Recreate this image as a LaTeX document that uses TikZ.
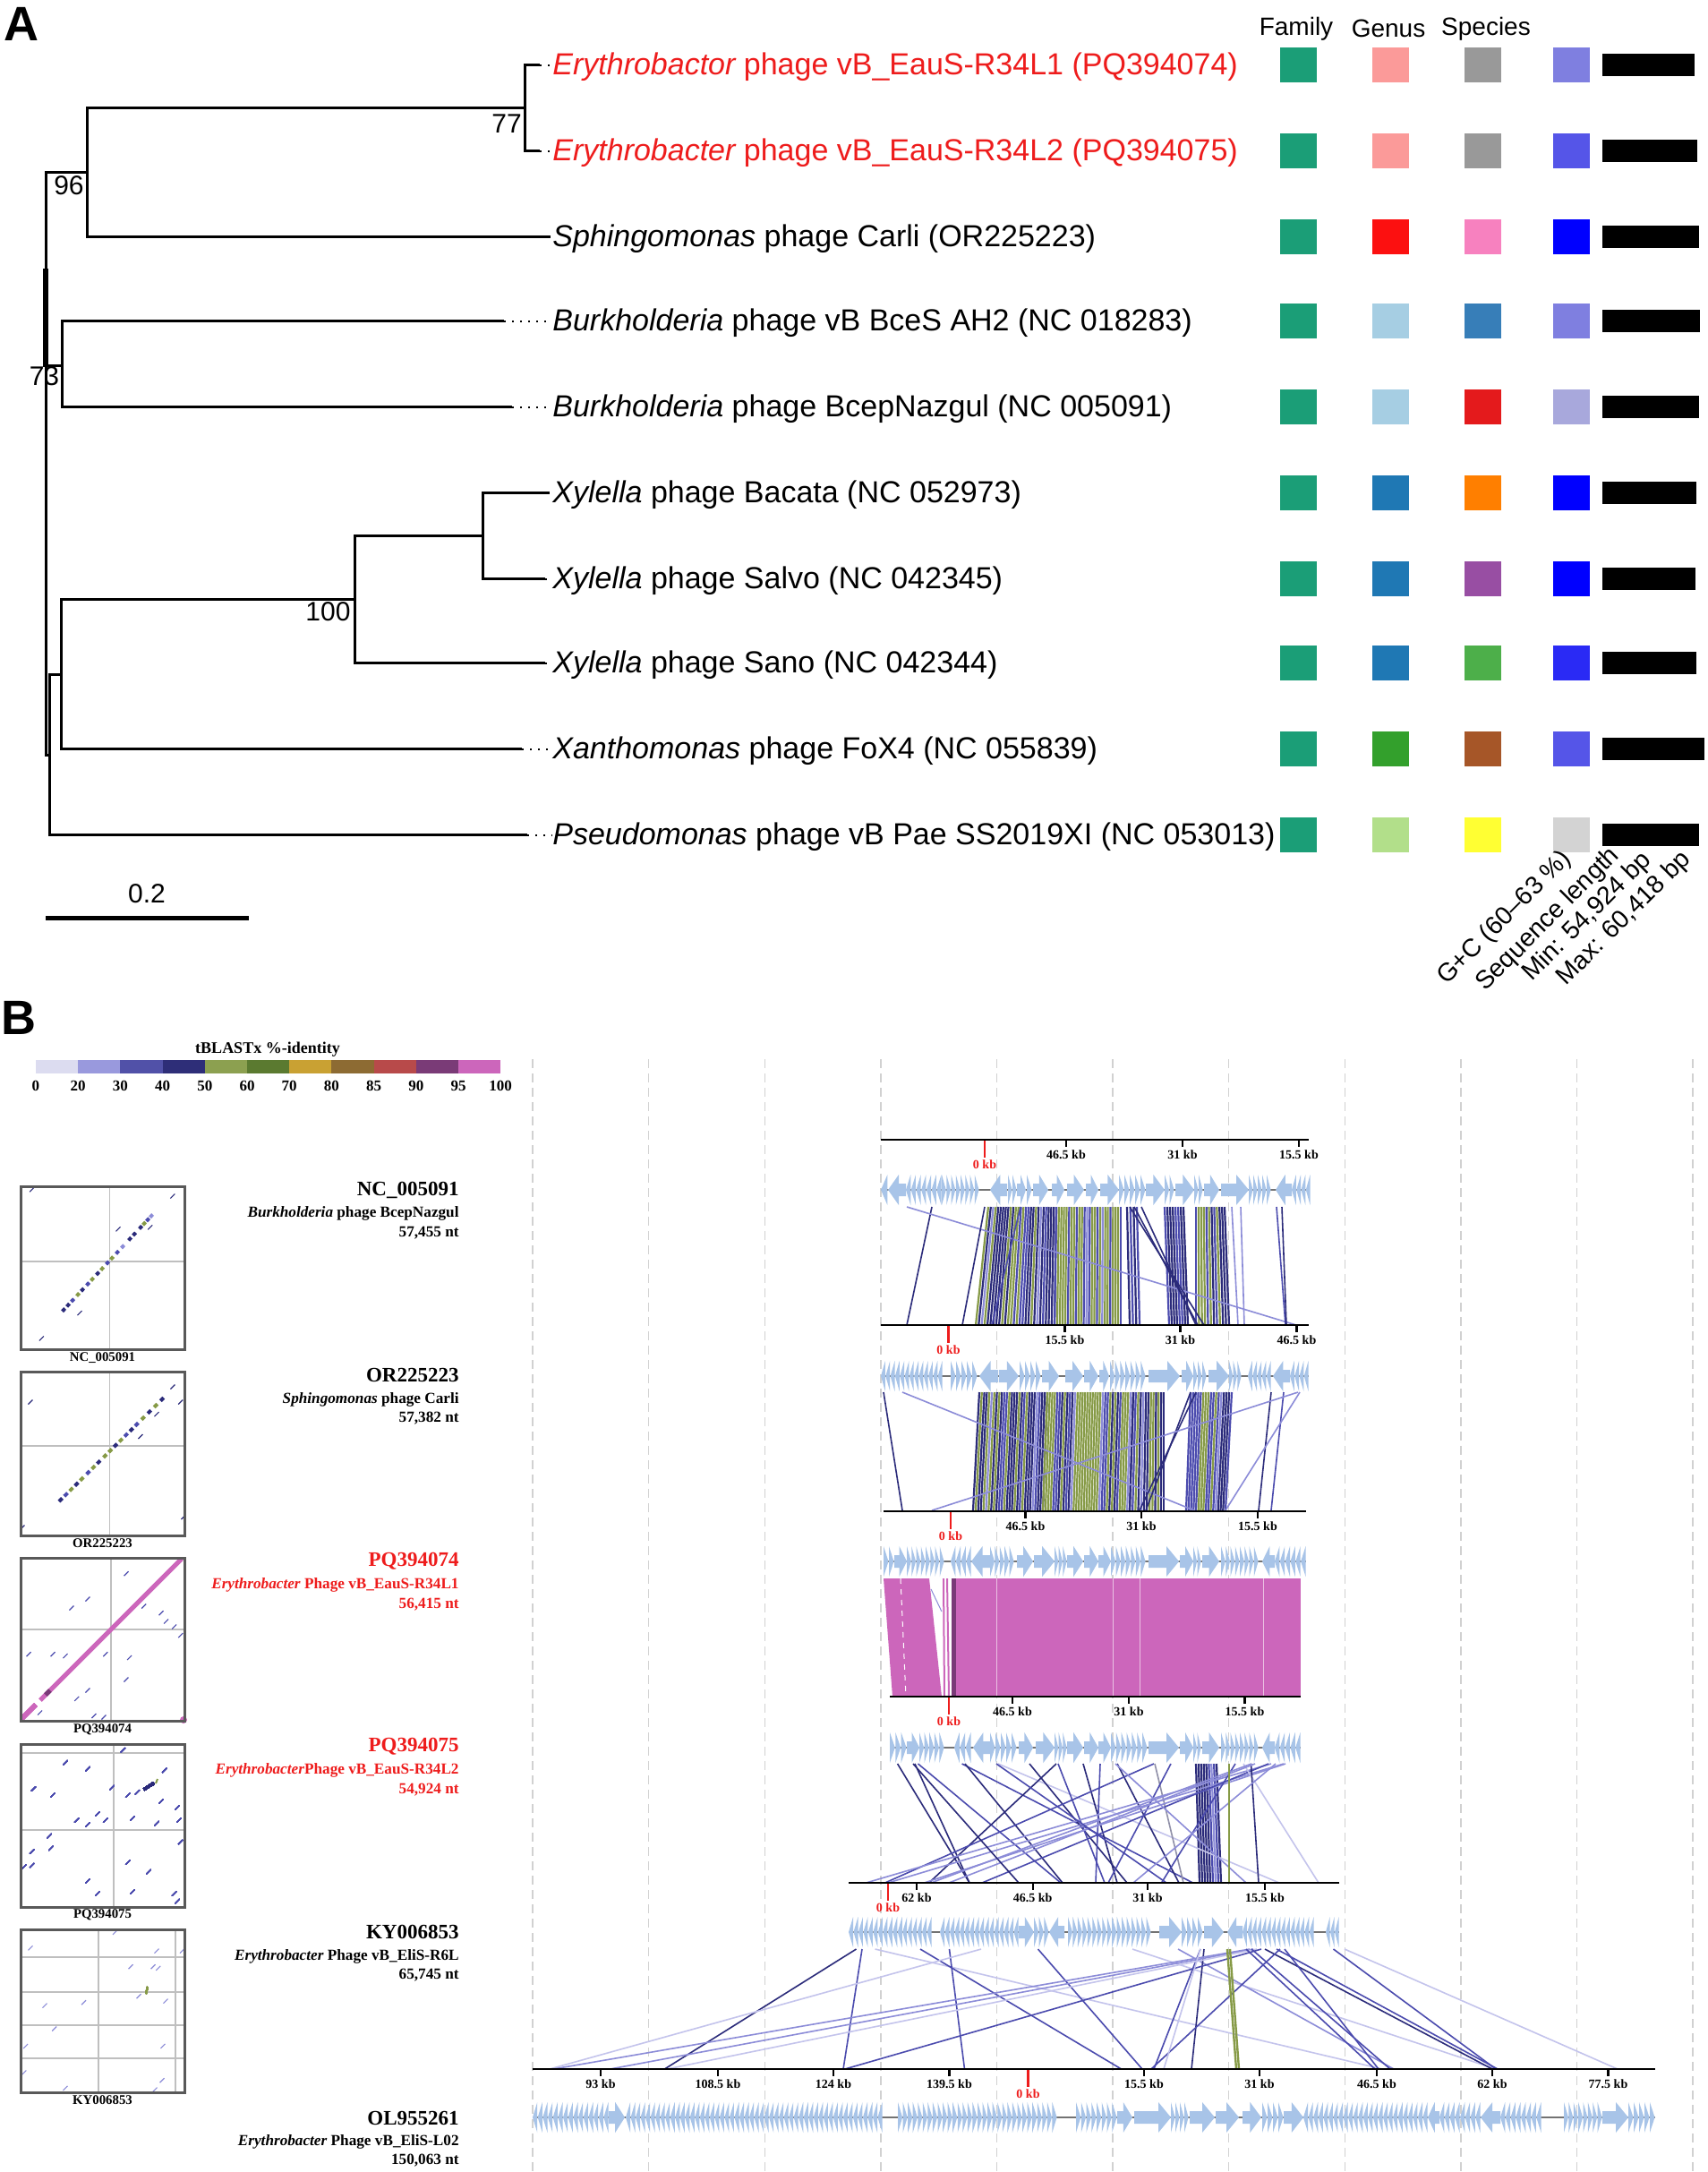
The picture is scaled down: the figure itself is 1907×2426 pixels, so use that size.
\documentclass[tikz,border=0pt]{standalone}
\usepackage{fontspec}
\setmainfont{Liberation Serif}
\newfontfamily\arial{Liberation Sans}
\usetikzlibrary{calc}

\definecolor{ered}{HTML}{EE1C1C}
\definecolor{cfam}{HTML}{1B9E77}
\definecolor{gA}{HTML}{FB9A99}\definecolor{gB}{HTML}{FC1010}\definecolor{gC}{HTML}{A6CEE3}
\definecolor{gD}{HTML}{1F78B4}\definecolor{gE}{HTML}{33A02C}\definecolor{gF}{HTML}{B2DF8A}
\definecolor{sA}{HTML}{999999}\definecolor{sB}{HTML}{F781BF}\definecolor{sC}{HTML}{377EB8}
\definecolor{sD}{HTML}{E41A1C}\definecolor{sE}{HTML}{FF7F00}\definecolor{sF}{HTML}{984EA3}
\definecolor{sG}{HTML}{4DAF4A}\definecolor{sH}{HTML}{A65628}\definecolor{sI}{HTML}{FFFF33}
\definecolor{cA}{HTML}{7F7FE0}\definecolor{cB}{HTML}{5555E8}\definecolor{cC}{HTML}{0000FF}
\definecolor{cD}{HTML}{A8A8DC}\definecolor{cE}{HTML}{2A2AF5}\definecolor{cF}{HTML}{D3D3D3}
\definecolor{geneblue}{HTML}{A8C4E8}
\definecolor{cnav}{HTML}{2B2B7A}
\definecolor{cblu}{HTML}{4B4BAE}
\definecolor{clav}{HTML}{8C8CD8}
\definecolor{cfnt}{HTML}{C4C4EC}
\definecolor{colv}{HTML}{869A46}
\definecolor{cgry}{HTML}{9090A8}
\definecolor{cpink}{HTML}{CC66BB}
\definecolor{cdkp}{HTML}{7A3A78}
\definecolor{lgA}{HTML}{DCDCF0}\definecolor{lgB}{HTML}{9999DD}\definecolor{lgC}{HTML}{5151A8}
\definecolor{lgD}{HTML}{2E2E78}\definecolor{lgE}{HTML}{8CA050}\definecolor{lgF}{HTML}{5B7A30}
\definecolor{lgG}{HTML}{C9A133}\definecolor{lgH}{HTML}{8D6B33}\definecolor{lgI}{HTML}{B84A4A}
\definecolor{lgJ}{HTML}{7A3B77}\definecolor{lgK}{HTML}{CC66BB}

% gene arrows
\newcommand\genR[3]{%
  \pgfmathsetmacro\hh{min(14,0.6*(#2-#1))}%
  \fill[genef] (#1,#3-7) -- ({#2-\hh},#3-7) -- ({#2-\hh},#3-17) -- (#2,#3) -- ({#2-\hh},#3+17) -- ({#2-\hh},#3+7) -- (#1,#3+7) -- cycle;}
\newcommand\genL[3]{%
  \pgfmathsetmacro\hh{min(14,0.6*(#2-#1))}%
  \fill[genef] (#2,#3-7) -- ({#1+\hh},#3-7) -- ({#1+\hh},#3-17) -- (#1,#3) -- ({#1+\hh},#3+17) -- ({#1+\hh},#3+7) -- (#2,#3+7) -- cycle;}
\newcommand\genD[4]{%
  \pgfmathtruncatemacro\gn{max(1,round((#2-#1)/5.5))}%
  \pgfmathsetmacro\gw{(#2-#1)/\gn}%
  \foreach \j in {1,...,\gn}{%
    \pgfmathsetmacro\ga{#1+(\j-1)*\gw}%
    \pgfmathsetmacro\gb{\ga+\gw*0.92}%
    \ifnum#4>0 \fill[genef] (\ga,#3-17) -- (\gb,#3) -- (\ga,#3+17) -- cycle;%
    \else \fill[genef] (\gb,#3-17) -- (\ga,#3) -- (\gb,#3+17) -- cycle;\fi}}
% dense alignment band
\newcommand\alband[7]{%
  \pgfmathtruncatemacro\bn{max(1,int((#4-#3)/2.8))}%
  \foreach \i in {0,...,\bn}{%
    \pgfmathsetmacro\btx{#3+(#4-#3)*\i/\bn}%
    \pgfmathsetmacro\bbx{#5+(#6-#5)*\i/\bn}%
    \pgfmathrandominteger{\bk}{0}{9}%
    \ifnum\bk<#7\relax\def\bcc{colv}\else\ifnum\bk<7\relax\def\bcc{cnav}\else\ifnum\bk<9\relax\def\bcc{cblu}\else\def\bcc{clav}\fi\fi\fi
    \draw[color=\bcc, line width=1.1pt] (\btx,#1) -- (\bbx,#2);}}
% axis with ticks
\newcommand\trackaxis[5]{%
  \draw[axisl] (#2,#1) -- (#3,#1);
  \foreach \tx/\tl [count=\tc] in {#5}{%
    \draw[tickl] (\tx,#1) -- (\tx,#1+8);
    \node[tklab] (tk#1n\tc) at (\tx,#1+17) {\tl};}
  \draw[ered, line width=1.2pt] (#4,#1+1) -- (#4,#1+20);
  \node[tklab, text=ered] (zk#1) at (#4,#1+28) {0 kb};}
% dot-plot dash
\newcommand\dpd[3]{\draw[color=#3, line width=0.55pt] (#1-2.5,#2+2.5) -- (#1+2.5,#2-2.5);}

\begin{document}
\begin{tikzpicture}[x=0.5pt,y=-0.5pt,
  br/.style={line width=1.5pt},
  dotl/.style={line width=1pt, dash pattern=on 1pt off 3.5pt},
  leaf/.style={anchor=west, inner sep=0pt, font=\arial\fontsize{17}{20}\selectfont},
  bsn/.style={inner sep=0pt, font=\arial\fontsize{15}{18}\selectfont},
  hdr/.style={inner sep=0pt, font=\arial\fontsize{14}{16}\selectfont},
  rotl/.style={inner sep=0pt, rotate=45, anchor=base west, font=\arial\fontsize{14.2}{16}\selectfont},
  sq/.style={minimum width=20.5pt, minimum height=19.5pt, inner sep=0pt},
  panlab/.style={inner sep=0pt, font=\arial\bfseries\fontsize{27}{30}\selectfont},
  vgrid/.style={draw=black!18, line width=0.7pt, dash pattern=on 5pt off 3pt},
  axisl/.style={line width=1.4pt},
  tickl/.style={line width=1.1pt},
  tklab/.style={inner sep=0pt, font=\bfseries\fontsize{7}{8}\selectfont},
  genef/.style={fill=geneblue},
  backb/.style={draw=black!55, line width=0.8pt},
  gid/.style={anchor=east, inner sep=0pt, font=\bfseries\fontsize{11.5}{13}\selectfont},
  gsub/.style={anchor=east, inner sep=0pt, font=\bfseries\fontsize{8.6}{10}\selectfont},
  dpl/.style={inner sep=0pt, font=\bfseries\fontsize{7.4}{9}\selectfont},
  dpf/.style={draw=black!65, line width=1.5pt},
  dpg/.style={draw=black!25, line width=0.6pt},
  lgt/.style={inner sep=0pt, font=\bfseries\fontsize{9}{10}\selectfont},
  lgn/.style={inner sep=0pt, font=\bfseries\fontsize{8.5}{10}\selectfont}]
\useasboundingbox[fill=white] (0,0) rectangle (1907,2426);
\pgfmathsetseed{11}

%================ PANEL A =================
\node[panlab] (lblA) at (24,27) {A};

% tree coordinates
\coordinate (R) at (51,518);
\coordinate (n96) at (97.4,192.6);
\coordinate (n77) at (586,120.6);
\coordinate (nB) at (69.6,408);
\coordinate (nLow) at (55,843);
\coordinate (nX) at (68.5,753);
\coordinate (n100) at (396.5,669);
\coordinate (nXy) at (539,598.5);
\coordinate (e1) at (603,72.7);
\coordinate (e2) at (603,168.6);
\coordinate (e3) at (615,264.5);
\coordinate (e4) at (563,358.8);
\coordinate (e5) at (572,454.7);
\coordinate (e6) at (614,550.6);
\coordinate (e7) at (609,646.5);
\coordinate (e8) at (609,740.8);
\coordinate (e9) at (583,836.7);
\coordinate (e10) at (589,932.6);

\draw[br] (R) |- (n96);
\draw[br] (R) |- (nB);
\draw[br] (R) |- (nLow);
\draw[line width=2.6pt] (51,300) -- (51,410);
\draw[br] (n96) |- (n77);
\draw[br] (n96) |- (e3);
\draw[br] (n77) |- (e1);
\draw[br] (n77) |- (e2);
\draw[br] (nB) |- (e4);
\draw[br] (nB) |- (e5);
\draw[br] (nLow) |- (nX);
\draw[br] (nLow) |- (e10);
\draw[br] (nX) |- (n100);
\draw[br] (nX) |- (e9);
\draw[br] (n100) |- (nXy);
\draw[br] (n100) |- (e8);
\draw[br] (nXy) |- (e6);
\draw[br] (nXy) |- (e7);

% leaf labels
\node[leaf, text=ered] (L1) at (617,75) {\itshape Erythrobactor\upshape{} phage vB\_EauS-R34L1 (PQ394074)};
\node[leaf, text=ered] (L2) at (617,171) {\itshape Erythrobacter\upshape{} phage vB\_EauS-R34L2 (PQ394075)};
\node[leaf] (L3) at (617,267) {\itshape Sphingomonas\upshape{} phage Carli (OR225223)};
\node[leaf] (L4) at (617,361) {\itshape Burkholderia\upshape{} phage vB BceS AH2 (NC 018283)};
\node[leaf] (L5) at (617,457) {\itshape Burkholderia\upshape{} phage BcepNazgul (NC 005091)};
\node[leaf] (L6) at (617,553) {\itshape Xylella\upshape{} phage Bacata (NC 052973)};
\node[leaf] (L7) at (617,649) {\itshape Xylella\upshape{} phage Salvo (NC 042345)};
\node[leaf] (L8) at (617,743) {\itshape Xylella\upshape{} phage Sano (NC 042344)};
\node[leaf] (L9) at (617,839) {\itshape Xanthomonas\upshape{} phage FoX4 (NC 055839)};
\node[leaf] (L10) at (617,935) {\itshape Pseudomonas\upshape{} phage vB Pae SS2019XI (NC 053013)};

\draw[dotl] (e1) -- (e1 -| L1.west);
\draw[dotl] (e2) -- (e2 -| L2.west);
\draw[dotl] (e4) -- (e4 -| L4.west);
\draw[dotl] (e5) -- (e5 -| L5.west);
\draw[dotl] (e7) -- (e7 -| L7.west);
\draw[dotl] (e8) -- (e8 -| L8.west);
\draw[dotl] (e9) -- (e9 -| L9.west);
\draw[dotl] (e10) -- (e10 -| L10.west);

% bootstrap values
\node[bsn] (b96) at (77,207) {96};
\node[bsn] (b77) at (566,138) {77};
\node[bsn] (b73) at (49.5,420) {73};
\node[bsn] (b100) at (366.5,683.6) {100};

% scale bar
\coordinate (s1) at (51,1025.5);
\coordinate (s2) at (278.4,1025.5);
\draw[line width=2.2pt] (s1) -- (s2);
\node[bsn] (s0) at (164,998) {0.2};

% headers
\node[hdr] (hF) at (1448,32) {Family};
\node[hdr] (hG) at (1551,32) {Genus};
\node[hdr] (hS) at (1660,32) {Species};

% colour squares and bars
\foreach \y/\g/\s/\c/\e [count=\i] in {
  72.7/gA/sA/cA/1893, 168.6/gA/sA/cB/1896, 264.5/gB/sB/cC/1898,
  358.8/gC/sC/cA/1898.5, 454.7/gC/sD/cD/1898, 550.6/gD/sE/cC/1895,
  646.5/gD/sF/cC/1894, 740.8/gD/sG/cE/1895, 836.7/gE/sH/cB/1904,
  932.6/gF/sI/cF/1898}{
  \node[sq, fill=cfam] (fam\i) at (1450,\y) {};
  \node[sq, fill=\g] (gen\i) at (1553.5,\y) {};
  \node[sq, fill=\s] (spe\i) at (1656,\y) {};
  \node[sq, fill=\c] (gcc\i) at (1755,\y) {};
  \fill (1789.5,\y-12.5) rectangle (\e,\y+12.5);
}

% rotated labels
\node[rotl] (rGC) at (1616,1101) {G+C (60–63 \%)};
\node[rotl] (rSL) at (1659,1108) {Sequence length};
\node[rotl] (rMin) at (1711,1097) {Min: 54,924 bp};
\node[rotl] (rMax) at (1749,1102) {Max: 60,418 bp};

%================ PANEL B =================
\node[panlab] (lblB) at (21,1137) {B};

% legend
\node[lgt] (lgtitle) at (299,1172) {tBLASTx \%-identity};
\foreach \c [count=\i from 0] in {lgA,lgB,lgC,lgD,lgE,lgF,lgG,lgH,lgI,lgJ,lgK}
  \fill[color=\c] ({40+47.2*\i},1184) rectangle ({87.2+47.2*\i},1199);
\foreach \v [count=\i from 0] in {0,20,30,40,50,60,70,80,85,90,95,100}
  \node[lgn] (lgn\i) at ({40+47.2*\i},1213) {\v};

% vertical dashed grid
\foreach \k in {0,...,10}
  \draw[vgrid] ({595+129.6*\k},1183) -- ({595+129.6*\k},2426);

% ---- alignments 1-2
\alband{1348}{1480}{1104}{1180}{1090}{1178}{2}
\alband{1348}{1480}{1180}{1252}{1178}{1252}{6}
\alband{1348}{1480}{1259}{1270}{1262}{1273}{0}
\alband{1348}{1480}{1301}{1322}{1306}{1327}{0}
\alband{1348}{1480}{1336}{1368}{1336}{1373}{3}
\foreach \a/\b/\c in {1041/1013/cnav,1013/1448/clav,1267/1338/cnav,1275/1336/cnav,1262/1345/cnav,
  1376/1383/clav,1426/1436/cblu,1432/1437/cnav,1386/1390/clav,1100/1075/cnav,1140/1108/cblu}
  \draw[color=\c, line width=0.8pt] (\a,1348) -- (\b,1480);

% ---- alignments 2-3
\alband{1555}{1687}{1094}{1170}{1087}{1165}{3}
\alband{1555}{1687}{1170}{1266}{1165}{1262}{6}
\alband{1555}{1687}{1266}{1300}{1262}{1300}{1}
\alband{1555}{1687}{1330}{1376}{1325}{1369}{4}
\foreach \a/\b/\c in {987/1008/cnav,1008/1334/clav,1336/1273/cnav,1330/1280/cnav,1420/1406/cnav,
  1434/1420/cblu,1452/1369/clav,1450/1041/clav}
  \draw[color=\c, line width=0.8pt] (\a,1555) -- (\b,1687);

% ---- alignments 3-4 (pink)
\fill[cpink] (987,1763) -- (1038,1763) -- (1052,1895) -- (997,1895) -- cycle;
\draw[white, line width=0.5pt, dash pattern=on 3pt off 3pt] (1006,1763) -- (1012,1895);
\draw[cpink, line width=1pt] (1054,1763) -- (1055,1895);
\draw[cpink, line width=1pt] (1058,1763) -- (1060,1895);
\draw[clav, line width=0.5pt] (1040,1775) -- (1052,1800);
\fill[cdkp] (1063,1763) rectangle (1067.5,1895);
\fill[cpink] (1067.5,1763) rectangle (1453,1895);
\foreach \x in {1113,1243,1273,1411}
  \draw[white, line width=0.5pt, opacity=0.6] (\x,1763) -- (\x,1895);

% ---- alignments 4-5
\alband{1970}{2103}{1336}{1359}{1340}{1364}{0}
\foreach \a/\b/\c in {1002.6/1083/cnav,1022/1083/cnav,1025.5/1185/cblu,1074.6/1332.6/cblu,1078/1187/cnav,
  1115/1429/cfnt,1150/1259/cnav,1180/1037.8/cnav,1182/1234/cblu,1210/1248/cnav,1229/1224/cblu,
  1248/1317/cnav,1289/988.6/cblu,1290/1322/cgry,1308/1238/cblu,1420/967.5/clav,1434/992/clav,
  1436/1032.5/clav,1417/1097/cblu,1389/1473/cfnt,1397.5/1406/cnav,1380/1297.5/cblu,1246/1392/clav,
  1425/1266/clav,1398/1040/clav,1402/1060/clav,1020/1138/cnav,1113/1303/cblu}
  \draw[color=\c, line width=0.8pt] (\a,1970) -- (\b,2103);
\draw[colv, line width=1.4pt] (1373,1970) -- (1373,2103);

% ---- alignments 5-6
\foreach \a/\b/\c in {956.5/742.4/cnav,963/942/cblu,977.6/1544/cfnt,1028/1252.6/cblu,1060.5/1077.5/cblu,
  1096/614/cfnt,1159.5/1276/cblu,1265/1671/cfnt,1316/1557/clav,1341/1289/cblu,1345/1331/cnav,
  1396/618/clav,1400/681.5/clav,1404/745/cfnt,1409/943.8/cblu,1392/1536/cblu,1398/1553/cblu,
  1413/1667/cnav,1426/1673/cblu,1489.5/1671/cblu,1430/1286/cblu,1435/1540/cblu,1502/1807/cfnt,1341/1300/cfnt}
  \draw[color=\c, line width=0.8pt] (\a,2177) -- (\b,2311);
\draw[colv, line width=1.2pt] (1371,2177) -- (1381,2311);
\draw[colv, line width=1.2pt] (1374,2177) -- (1384,2311);

% ---- axes
\trackaxis{1273}{984}{1462}{1100}{1191/46.5 kb,1321/31 kb,1451/15.5 kb}
\trackaxis{1480}{984}{1462}{1059.5}{1189.5/15.5 kb,1318.5/31 kb,1448.5/46.5 kb}
\trackaxis{1688}{987}{1459}{1062}{1145.5/46.5 kb,1275/31 kb,1405/15.5 kb}
\trackaxis{1895}{994}{1453}{1060}{1131/46.5 kb,1261/31 kb,1390.5/15.5 kb}
\trackaxis{2103}{948}{1496}{992}{1024/62 kb,1153.6/46.5 kb,1282/31 kb,1413/15.5 kb}
\trackaxis{2311}{595}{1849}{1148.5}{671/93 kb,802/108.5 kb,931/124 kb,1060.5/139.5 kb,1278/15.5 kb,1407/31 kb,1538/46.5 kb,1667/62 kb,1796.5/77.5 kb}

% ---- gene rows
% T1
\def\gy{1329}
\draw[backb] (984,\gy) -- (1463,\gy);
\genD{984}{992}{\gy}{-1}\genL{992}{1012}{\gy}\genD{1012}{1052}{\gy}{-1}\genD{1052}{1094}{\gy}{1}
\genL{1106}{1125}{\gy}\genD{1126}{1136}{\gy}{1}\genR{1136}{1146}{\gy}\genD{1147}{1153}{\gy}{1}
\genR{1154}{1171}{\gy}\genR{1175}{1189}{\gy}\genR{1192}{1211}{\gy}\genR{1213}{1227}{\gy}
\genR{1229}{1250}{\gy}\genD{1250}{1280}{\gy}{1}\genR{1280}{1301}{\gy}\genD{1301}{1312}{\gy}{1}
\genR{1313}{1334}{\gy}\genD{1334}{1344}{\gy}{1}\genR{1345}{1362}{\gy}\genR{1364}{1395}{\gy}
\genD{1395}{1420}{\gy}{1}\genL{1425}{1443}{\gy}\genD{1443}{1464}{\gy}{-1}
% T2
\def\gy{1537}
\draw[backb] (984,\gy) -- (1462,\gy);
\genD{984}{1053}{\gy}{-1}\genD{1062}{1092}{\gy}{1}\genL{1094}{1115}{\gy}\genR{1116}{1138}{\gy}
\genD{1139}{1163}{\gy}{1}\genR{1164}{1183}{\gy}\genR{1190}{1210}{\gy}\genR{1211}{1227}{\gy}
\genR{1228}{1239}{\gy}\genD{1240}{1280}{\gy}{1}\genR{1283}{1318}{\gy}\genR{1320}{1333}{\gy}
\genD{1333}{1348}{\gy}{1}\genR{1350}{1373}{\gy}\genD{1373}{1387}{\gy}{1}\genD{1394}{1420}{\gy}{-1}
\genL{1422}{1441}{\gy}\genD{1441}{1462}{\gy}{-1}
% T3
\def\gy{1744}
\draw[backb] (987,\gy) -- (1459,\gy);
\genD{987}{999}{\gy}{1}\genR{999}{1013}{\gy}\genD{1013}{1055}{\gy}{1}\genD{1062}{1085}{\gy}{-1}
\genL{1085}{1106}{\gy}\genD{1106}{1133}{\gy}{1}\genR{1136}{1154}{\gy}\genR{1155}{1178}{\gy}
\genD{1178}{1192}{\gy}{1}\genR{1192}{1210}{\gy}\genR{1211}{1227}{\gy}\genR{1227}{1241}{\gy}
\genD{1241}{1280}{\gy}{1}\genR{1283}{1317}{\gy}\genR{1318}{1333}{\gy}\genD{1333}{1342}{\gy}{1}
\genR{1343}{1362}{\gy}\genD{1364}{1406}{\gy}{1}\genL{1410}{1424}{\gy}\genD{1424}{1459}{\gy}{-1}
% T4
\def\gy{1952}
\draw[backb] (994,\gy) -- (1453,\gy);
\genD{994}{1013}{\gy}{1}\genR{1013}{1027}{\gy}\genD{1027}{1055}{\gy}{1}\genD{1066}{1085}{\gy}{-1}
\genL{1087}{1106}{\gy}\genD{1106}{1136}{\gy}{1}\genR{1138}{1154}{\gy}\genR{1157}{1178}{\gy}
\genD{1178}{1192}{\gy}{1}\genR{1192}{1210}{\gy}\genR{1211}{1227}{\gy}\genR{1227}{1241}{\gy}
\genD{1241}{1282}{\gy}{1}\genR{1283}{1317}{\gy}\genR{1318}{1333}{\gy}\genD{1333}{1342}{\gy}{1}
\genR{1343}{1362}{\gy}\genD{1364}{1406}{\gy}{1}\genL{1410}{1424}{\gy}\genD{1424}{1453}{\gy}{-1}
% T5
\def\gy{2158}
\draw[backb] (948,\gy) -- (1496,\gy);
\genD{948}{1041}{\gy}{-1}\genD{1050}{1138}{\gy}{-1}\genR{1138}{1155}{\gy}\genD{1155}{1172}{\gy}{1}
\genL{1172}{1189}{\gy}\genD{1193}{1286}{\gy}{1}\genR{1295}{1320}{\gy}\genD{1320}{1344}{\gy}{1}
\genR{1345}{1367}{\gy}\genL{1371}{1388}{\gy}\genD{1388}{1468}{\gy}{-1}\genD{1481}{1496}{\gy}{-1}
% T6
\def\gy{2365}
\draw[backb] (595,\gy) -- (1849,\gy);
\genD{595}{680}{\gy}{-1}\genR{680}{698}{\gy}\genD{699}{986}{\gy}{-1}\genD{1003}{1181}{\gy}{1}
\genD{1202}{1248}{\gy}{1}\genR{1248}{1265}{\gy}\genR{1267}{1308}{\gy}\genD{1308}{1328}{\gy}{1}
\genR{1329}{1357}{\gy}\genR{1358}{1384}{\gy}\genR{1388}{1409}{\gy}\genD{1410}{1434}{\gy}{1}
\genR{1434}{1456}{\gy}\genD{1456}{1595}{\gy}{-1}\genL{1595}{1608}{\gy}\genD{1608}{1654}{\gy}{-1}
\genL{1654}{1676}{\gy}\genD{1676}{1722}{\gy}{-1}\genD{1747}{1790}{\gy}{1}\genR{1790}{1819}{\gy}
\genD{1819}{1849}{\gy}{1}

% ---- genome labels
\node[gid] (id1) at (513,1329) {NC\_005091};
\node[gsub] (sp1) at (513,1355) {\textit{Burkholderia} phage BcepNazgul};
\node[gsub] (ln1) at (513,1377) {57,455 nt};
\node[gid] (id2) at (513,1536) {OR225223};
\node[gsub] (sp2) at (513,1563) {\textit{Sphingomonas} phage Carli};
\node[gsub] (ln2) at (513,1584) {57,382 nt};
\node[gid, text=ered] (id3) at (513,1744) {PQ394074};
\node[gsub, text=ered] (sp3) at (513,1770) {\textit{Erythrobacter} Phage vB\_EauS-R34L1};
\node[gsub, text=ered] (ln3) at (513,1792) {56,415 nt};
\node[gid, text=ered] (id4) at (513,1951) {PQ394075};
\node[gsub, text=ered] (sp4) at (513,1977) {\textit{Erythrobacter}Phage vB\_EauS-R34L2};
\node[gsub, text=ered] (ln4) at (513,1999) {54,924 nt};
\node[gid] (id5) at (513,2158) {KY006853};
\node[gsub] (sp5) at (513,2185) {\textit{Erythrobacter} Phage vB\_EliS-R6L};
\node[gsub] (ln5) at (513,2206) {65,745 nt};
\node[gid] (id6) at (513,2366) {OL955261};
\node[gsub] (sp6) at (513,2392) {\textit{Erythrobacter} Phage vB\_EliS-L02};
\node[gsub] (ln6) at (513,2413) {150,063 nt};

% ---- dot plots
\draw[dpg] (122.5,1325) -- (122.5,1507); \draw[dpg] (23,1409) -- (206,1409);
\draw[dpg] (122.5,1532) -- (122.5,1715); \draw[dpg] (23,1615) -- (206,1615);
\draw[dpg] (124,1740) -- (124,1922); \draw[dpg] (23,1820) -- (206,1820);
\draw[dpg] (127,1948) -- (127,2130); \draw[dpg] (23,1958) -- (206,1958); \draw[dpg] (23,2044) -- (206,2044);
\draw[dpg] (110,2155) -- (110,2337); \draw[dpg] (196,2155) -- (196,2337);
\foreach \y in {2186,2225,2262,2299} \draw[dpg] (23,\y) -- (206,\y);

% box 1
\coordinate (d1a) at (69.6,1464.7);
\coordinate (d1b) at (169.6,1357.5);
\foreach \t/\c in {0/cnav,0.05/cnav,0.1/cblu,0.16/colv,0.21/cnav,0.27/cblu,0.32/colv,0.38/cnav,0.43/colv,
  0.49/cblu,0.54/colv,0.6/cblu,0.66/clav,0.74/cnav,0.79/cnav,0.86/cnav,0.9/colv,0.94/cblu,0.98/clav}{
  \pgfmathsetmacro\tb{\t+0.03}
  \draw[color=\c, line width=2pt] ($(d1a)!\t!(d1b)$) -- ($(d1a)!\tb!(d1b)$);}
\foreach \x/\y in {35.7/1328.7,192.8/1336,132/1372.8,167.8/1370.9,89/1466.6,46.4/1495}
  \dpd{\x}{\y}{cnav}
% box 2
\coordinate (d2a) at (66,1677);
\coordinate (d2b) at (184,1560);
\foreach \t/\c in {0/cnav,0.05/cblu,0.1/colv,0.15/cnav,0.2/colv,0.26/cblu,0.31/colv,0.36/cnav,0.42/colv,
  0.47/colv,0.52/cnav,0.57/colv,0.62/cblu,0.67/cnav,0.72/cblu,0.78/colv,0.84/cnav,0.9/colv,0.96/cnav}{
  \pgfmathsetmacro\tb{\t+0.03}
  \draw[color=\c, line width=2pt] ($(d2a)!\t!(d2b)$) -- ($(d2a)!\tb!(d2b)$);}
\foreach \x/\y in {34/1566,193/1549,201.7/1566,175/1579.6,157/1604.5,205/1694.5,25/1706}
  \dpd{\x}{\y}{cnav}
% box 3
\draw[cpink, line width=2.5pt] (24,1920) -- (40,1904);
\draw[cpink, line width=2.5pt] (45,1899) -- (203,1741);
\draw[cdkp, line width=2.5pt] (51,1893) -- (56,1888);
\fill[cpink] (205,1921) circle (4);
\foreach \x/\y in {141/1757.7,98/1786,80/1796,160.7/1794,180/1801.7,185.6/1811,194.6/1817,201.7/1826.6,
  32/1847.7,59/1847.7,73/1849.6,117.8/1847.7,144.6/1851.5,141/1876,98/1888,85.7/1897.4,44.6/1913,105/1916.5,116/1918}
  \dpd{\x}{\y}{cblu}
% box 4
\foreach \x/\y in {137.4/1954.8,73/1968.7,98/1975.7,37.5/1998,59/2005,125/1996.6,142.8/2005,153.5/2001.8,
  183.8/1977.4,180/2012,198/2019,85.7/2033,98/2038,109/2026,117.8/2033,148/2031,175/2036.6,200/2033,
  55/2050.5,57/2064.4,35.7/2068,26.8/2085,35.7/2083.6,142.8/2080,166/2090.5,201.7/2057.5,98/2101,
  109/2115,148/2113,194.6/2115,198/2123.6}
  \dpd{\x}{\y}{cblu}
\draw[cnav, line width=1.6pt] (160.7,1998.7) -- (172,1991.5);
\draw[colv, line width=1pt] (174,1992) -- (176,1987);
% box 5
\foreach \x/\y in {128.5/2158.4,34/2175.8,175/2179,146/2196.7,171/2196.7,176.7/2198.4,203.5/2179,
  155/2229.7,50/2240,93.5/2236.7,185/2235,60.7/2266,28.6/2285.4,182/2285.4,26.8/2315,181/2323.7,
  73/2332.4,173/2334}
  \dpd{\x}{\y}{clav}
\draw[colv, line width=1pt] (163,2227) -- (165,2219);
% frames
\draw[dpf] (23,1325) rectangle (206,1507);
\draw[dpf] (23,1532) rectangle (206,1715);
\draw[dpf] (23,1740) rectangle (206,1922);
\draw[dpf] (23,1948) rectangle (206,2130);
\draw[dpf] (23,2155) rectangle (206,2337);
\node[dpl] (dl1) at (114.5,1517) {NC\_005091};
\node[dpl] (dl2) at (114.5,1724) {OR225223};
\node[dpl] (dl3) at (114.5,1932) {PQ394074};
\node[dpl] (dl4) at (114.5,2139) {PQ394075};
\node[dpl] (dl5) at (114.5,2346) {KY006853};
\end{tikzpicture}
\end{document}
